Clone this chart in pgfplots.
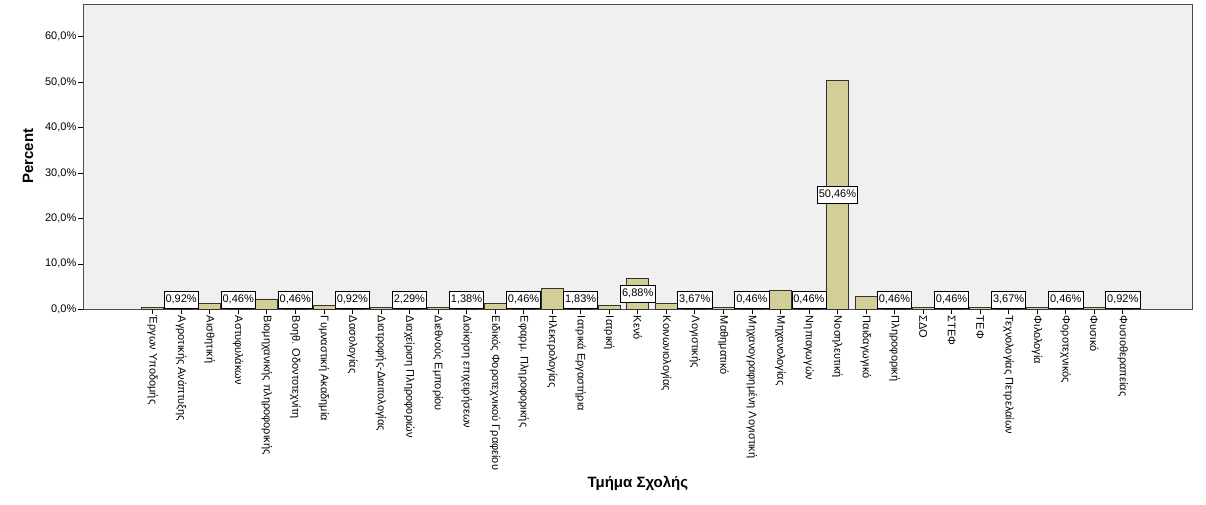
\documentclass[border=0pt]{standalone}
\usepackage{fontspec}
\setmainfont{Liberation Sans}
\usepackage{pgfplots}
\usepackage{pgfplotstable}
\pgfplotsset{compat=1.18}

\definecolor{spssbar}{RGB}{211,206,151}
\definecolor{spssbg}{RGB}{240,240,240}

% percent of respondents per department
\pgfplotstableread{
x  pct
0  0.46
1  0.92
2  1.38
3  0.46
4  2.29
5  0.46
6  0.92
7  0.92
8  0.46
9  2.29
10 0.46
11 1.38
12 1.38
13 0.46
14 4.59
15 1.83
16 0.92
17 6.88
18 1.38
19 3.67
20 0.46
21 0.46
22 4.13
23 0.46
24 50.46
25 2.75
26 0.46
27 0.46
28 0.46
29 0.46
30 3.67
31 0.46
32 0.46
33 0.46
34 0.92
}\pcttable

% labels shown by SPSS (centre of bar, kept clear of the axis)
\pgfplotstableread{
x  ypos   lab
1  2.05   0,92
3  2.05   0,46
5  2.05   0,46
7  2.05   0,92
9  2.05   2,29
11 2.05   1,38
13 2.05   0,46
15 2.05   1,83
17 3.44   6,88
19 2.05   3,67
21 2.05   0,46
23 2.05   0,46
24 25.23  50,46
26 2.05   0,46
28 2.05   0,46
30 2.05   3,67
32 2.05   0,46
34 2.05   0,92
}\labtable

\begin{document}
\begin{tikzpicture}
\useasboundingbox (0,0) rectangle (1206pt,505pt);
\begin{axis}[
  at={(83pt,195.7pt)}, anchor=south west,
  scale only axis,
  width=1109.7pt, height=304.6pt,
  xmin=-2.44, xmax=36.45,
  ymin=0, ymax=67,
  axis background/.style={fill=spssbg},
  axis line style={black!70, line width=0.8pt},
  tick style={black, line width=0.6pt},
  tick align=outside,
  major tick length=5pt,
  xtick pos=lower, ytick pos=left,
  xtick={0,...,34},
  xticklabels={Έργων Υποδομής,Αγροτικής Ανάπτυξης,Αισθητική,Αστυφυλάκων,Βιομηχανικής πληροφορικής,Βοηθ. Οδοντοτεχνίτη,Γυμναστική Ακαδημία,Δασολογίας,Διατροφής-Διαιτολογίας,Διαχείριση Πληροφοριών,Διεθνούς Εμπορίου,Διοίκηση επιχειρήσεων,Ειδικός Φοροτεχνικού Γραφείου,Εφαρμ. Πληροφορικής,Ηλεκτρολογίας,Ιατρικά Εργαστήρια,Ιατρική,Κενό,Κοινωνιολογίας,Λογιστικής,Μαθηματικό,Μηχανογραφημένη Λογιστική,Μηχανολογίας,Νηπιαγωγών,Νοσηλευτική,Παιδαγωγικό,Πληροφορική,ΣΔΟ,ΣΤΕΦ,ΤΕΦ,Τεχνολογίας Πετρελαίων,Φιλολογία,Φοροτεχνικός,Φυσικό,Φυσιοθεραπείας},
  x tick label style={rotate=-90, anchor=west, font=\fontsize{11}{13}\selectfont, inner sep=1.5pt},
  ytick={0,10,20,30,40,50,60},
  yticklabels={{0,0\%},{10,0\%},{20,0\%},{30,0\%},{40,0\%},{50,0\%},{60,0\%}},
  y tick label style={font=\fontsize{11}{13}\selectfont, inner sep=1.5pt},
  ylabel={Percent},
  xlabel={Τμήμα Σχολής},
  every axis y label/.style={at={(rel axis cs:0,0.503)}, xshift=-55pt, rotate=90, anchor=center, font=\fontsize{15}{17}\bfseries\selectfont},
  every axis x label/.style={at={(rel axis cs:0.5,0)}, yshift=-173.7pt, anchor=center, font=\fontsize{15}{17}\bfseries\selectfont},
]
\addplot[ybar, bar shift=0pt, bar width=22pt, fill=spssbar, draw=black!80, line width=0.6pt]
  table[x=x, y=pct] {\pcttable};
\addplot[draw=none, mark=none, forget plot,
  nodes near coords={\pgfplotspointmeta\%},
  point meta=explicit symbolic,
  nodes near coords style={anchor=center, draw=black, line width=0.6pt, fill=white,
    font=\fontsize{11}{13}\selectfont, inner xsep=1.5pt, inner ysep=0pt,
    text height=9pt, text depth=3pt, minimum height=17pt}]
  table[x=x, y=ypos, meta=lab] {\labtable};
\end{axis}
\end{tikzpicture}
\end{document}
